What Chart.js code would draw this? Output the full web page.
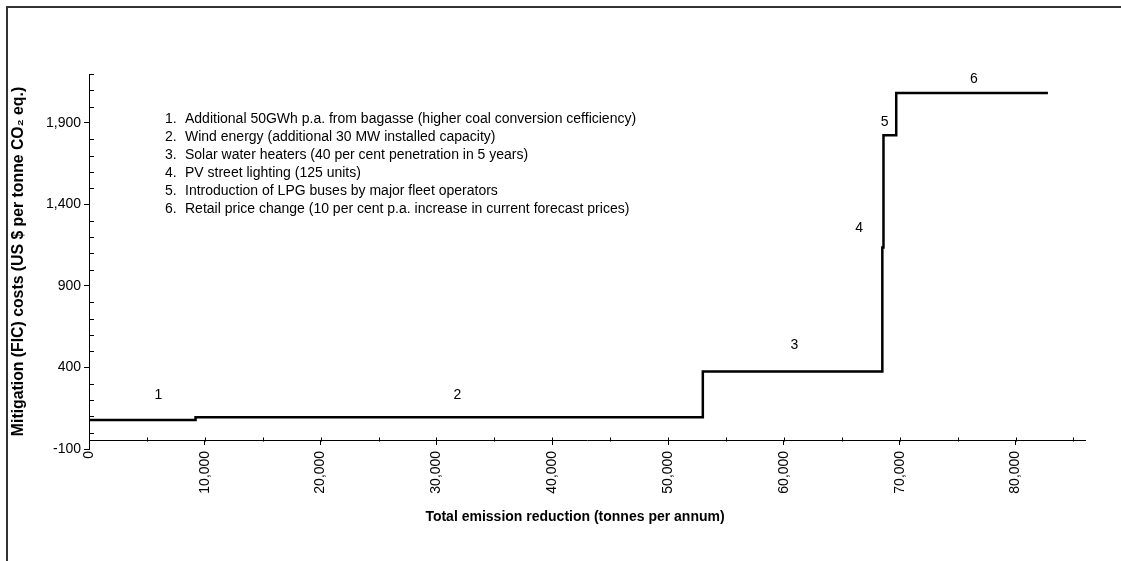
<!DOCTYPE html>
<html>
<head>
<meta charset="utf-8">
<title>Mitigation cost curve</title>
<script src="https://cdn.jsdelivr.net/npm/chart.js@4/dist/chart.umd.min.js"></script>
<style>
  html, body { margin: 0; padding: 0; background: #fff; }
  #wrap { position: relative; width: 1121px; height: 561px; }
</style>
</head>
<body>
<div id="wrap"><canvas id="chart" width="1121" height="561"></canvas></div>
<script>
// Options, in the order they appear on the curve
const optionNames = [
  'Additional 50GWh p.a. from bagasse (higher coal conversion cefficiency)',
  'Wind energy (additional 30 MW installed capacity)',
  'Solar water heaters (40 per cent penetration in 5 years)',
  'PV street lighting (125 units)',
  'Introduction of LPG buses by major fleet operators',
  'Retail price change (10 per cent p.a. increase in current forecast prices)'
];
// cumulative emission reduction at the end of each option (tonnes p.a.)
const cumulativeReduction = [9200, 53000, 68500, 68600, 69700, 82800];
// mitigation (FIC) cost of each option (US $ per tonne CO2 eq.)
const mitigationCost = [78, 95, 375, 1136, 1824, 2084];

// number labels next to the steps (data coordinates)
const stepLabels = ['1', '2', '3', '4', '5', '6'];
const stepLabelX = [6000, 31800, 60900, 66500, 68700, 76400];
const stepLabelY = [231, 231, 534, 1255, 1906, 2170];

const yTickLabels = [-100, 400, 900, 1400, 1900];
const xTickLabels = [0, 10000, 20000, 30000, 40000, 50000, 60000, 70000, 80000];
const X_MINOR_STEP = 5000;

const FONT = '"Liberation Sans", Arial, sans-serif';
const X_TITLE = 'Total emission reduction (tonnes per annum)';

// build the step curve
const points = [];
let start = 0;
mitigationCost.forEach((c, i) => {
  points.push({ x: start, y: c });
  start = cumulativeReduction[i];
});
points.push({ x: cumulativeReduction[cumulativeReduction.length - 1], y: mitigationCost[mitigationCost.length - 1] });

const X_AXIS_AT = -50;
const isXMajor = v => xTickLabels.includes(Math.round(v));
const isYMajor = v => yTickLabels.includes(Math.round(v));

const extras = {
  id: 'extras',
  beforeDraw(chart) {
    const ctx = chart.ctx;
    // frame on the left and top of the picture
    ctx.save();
    ctx.strokeStyle = '#333';
    ctx.lineWidth = 2;
    ctx.beginPath();
    ctx.moveTo(7, chart.height);
    ctx.lineTo(7, 7);
    ctx.lineTo(chart.width, 7);
    ctx.stroke();
    ctx.restore();
  },
  afterDraw(chart) {
    const ctx = chart.ctx;
    const xs = chart.scales.x, ys = chart.scales.y;
    const area = chart.chartArea;
    const axisY = Math.round(ys.getPixelForValue(X_AXIS_AT)) + 0.5;
    ctx.save();
    ctx.strokeStyle = '#000';
    ctx.lineWidth = 1;
    ctx.beginPath();
    // inner tick marks on x axis
    xs.ticks.forEach(t => {
      const px = Math.round(xs.getPixelForValue(t.value)) + 0.5;
      ctx.moveTo(px, axisY);
      ctx.lineTo(px, axisY - 4);
    });
    // inner minor ticks on y axis
    ys.ticks.forEach(t => {
      if (isYMajor(t.value)) return;
      const py = Math.round(ys.getPixelForValue(t.value)) + 0.5;
      ctx.moveTo(area.left, py);
      ctx.lineTo(area.left + 5, py);
    });
    ctx.stroke();

    // step numbers
    ctx.fillStyle = '#000';
    ctx.font = '14px ' + FONT;
    ctx.textAlign = 'center';
    ctx.textBaseline = 'middle';
    stepLabels.forEach((s, i) => {
      ctx.fillText(s, xs.getPixelForValue(stepLabelX[i]), ys.getPixelForValue(stepLabelY[i]));
    });

    // list of options
    ctx.textAlign = 'left';
    const lx = area.left + 76, ly = area.top + 45;
    optionNames.forEach((name, i) => {
      ctx.fillText((i + 1) + '.', lx, ly + i * 18);
      ctx.fillText(name, lx + 20, ly + i * 18);
    });

    // x axis title
    ctx.font = 'bold 14px ' + FONT;
    ctx.textAlign = 'center';
    ctx.fillText(X_TITLE, (area.left + area.right) / 2 - 12, axisY + 76);
    ctx.restore();
  }
};

new Chart(document.getElementById('chart'), {
  type: 'line',
  data: {
    datasets: [{
      data: points,
      stepped: true,
      borderColor: '#000',
      borderWidth: 2.5,
      pointRadius: 0,
      fill: false,
      borderJoinStyle: 'miter'
    }]
  },
  options: {
    responsive: false,
    animation: false,
    events: [],
    layout: { padding: { left: 0, top: 74, right: 36, bottom: 112 } },
    plugins: { legend: { display: false }, tooltip: { enabled: false } },
    scales: {
      x: {
        type: 'linear',
        min: 0,
        max: 86000,
        position: { y: X_AXIS_AT },
        border: { color: '#000', width: 1 },
        afterBuildTicks: s => {
          const ticks = [];
          for (let v = s.min; v <= s.max; v += X_MINOR_STEP) ticks.push({ value: v });
          s.ticks = ticks;
        },
        grid: {
          drawOnChartArea: false,
          tickLength: 4,
          tickColor: c => (c.tick && isXMajor(c.tick.value)) ? '#000' : 'rgba(0,0,0,0)'
        },
        ticks: {
          autoSkip: false,
          minRotation: 90,
          maxRotation: 90,
          padding: 6,
          color: '#000',
          font: { family: FONT, size: 14 },
          callback: v => isXMajor(v) ? Math.round(v).toLocaleString('en-US') : ''
        },
        title: { display: false }
      },
      y: {
        type: 'linear',
        min: -100,
        max: 2200,
        position: 'left',
        border: { color: '#000', width: 1 },
        afterFit: s => { s.width = 89; },
        grid: {
          drawOnChartArea: false,
          tickLength: 5,
          tickColor: c => (c.tick && isYMajor(c.tick.value)) ? '#000' : 'rgba(0,0,0,0)'
        },
        ticks: {
          stepSize: 100,
          autoSkip: false,
          padding: 3,
          color: '#000',
          font: { family: FONT, size: 14 },
          callback: v => isYMajor(v) ? Math.round(v).toLocaleString('en-US') : ''
        },
        title: {
          display: true,
          text: 'Mitigation (FIC) costs (US $ per tonne CO\u2082 eq.)',
          color: '#000',
          font: { family: FONT, size: 15.8, weight: 'bold' },
          padding: { top: 9, bottom: 0 }
        }
      }
    }
  },
  plugins: [extras]
});
</script>
</body>
</html>
